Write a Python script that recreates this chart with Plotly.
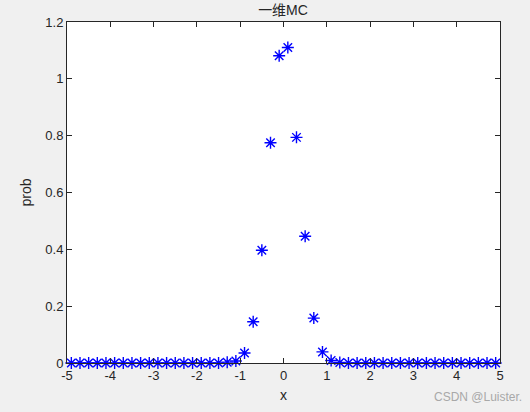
import plotly.graph_objects as go

x_vals = [round(-4.9 + 0.2 * i, 1) for i in range(50)]
prob = [0.0] * 50
center_vals = {
    -1.3: 0.003, -1.1: 0.007, -0.9: 0.035, -0.7: 0.145, -0.5: 0.397,
    -0.3: 0.775, -0.1: 1.081, 0.1: 1.110, 0.3: 0.794, 0.5: 0.446,
    0.7: 0.158, 0.9: 0.039, 1.1: 0.009, 1.3: 0.002,
}
for i, xv in enumerate(x_vals):
    if xv in center_vals:
        prob[i] = center_vals[xv]

x_ticks = [-5, -4, -3, -2, -1, 0, 1, 2, 3, 4, 5]
y_ticks = [0, 0.2, 0.4, 0.6, 0.8, 1, 1.2]
y_tick_text = ["0", "0.2", "0.4", "0.6", "0.8", "1", "1.2"]

font_fam = "Arial, Liberation Sans, Noto Sans CJK SC, sans-serif"

fig = go.Figure()
fig.add_trace(go.Scatter(
    x=x_vals, y=prob, mode="markers",
    marker=dict(symbol="asterisk-open", size=10, color="#0000ff",
                line=dict(color="#0000ff", width=1.4)),
    cliponaxis=False, showlegend=False,
))

axis_common = dict(
    showgrid=False, zeroline=False, showline=True, linecolor="#262626",
    linewidth=1, mirror="ticks", ticks="inside", ticklen=5,
    tickcolor="#262626", tickfont=dict(family=font_fam, size=13, color="#262626"),
)
fig.update_xaxes(range=[-5, 5], tickvals=x_ticks, ticktext=[str(t) for t in x_ticks],
                 title=dict(text="x", font=dict(family=font_fam, size=14, color="#262626"), standoff=8),
                 **axis_common)
fig.update_yaxes(range=[0, 1.2], tickvals=y_ticks, ticktext=y_tick_text,
                 title=dict(text="prob", font=dict(family=font_fam, size=14, color="#262626"), standoff=10),
                 **axis_common)

fig.update_layout(
    width=530, height=412,
    margin=dict(l=67, r=30, t=22, b=49, autoexpand=False),
    paper_bgcolor="#f0f0f0", plot_bgcolor="#ffffff",
    title=dict(text="一维MC", x=0.534, xanchor="center", y=0.975, yanchor="middle",
               font=dict(family=font_fam, size=14, color="#262626")),
    annotations=[dict(text="CSDN @Luister.", xref="paper", yref="paper",
                      x=1.055, y=-0.1, xanchor="right", yanchor="middle", showarrow=False,
                      font=dict(family=font_fam, size=12, color="#a8a8a8"))],
)

fig.write_html("out.html", config={"displayModeBar": False},
               post_script="document.body.style.margin='0';")
